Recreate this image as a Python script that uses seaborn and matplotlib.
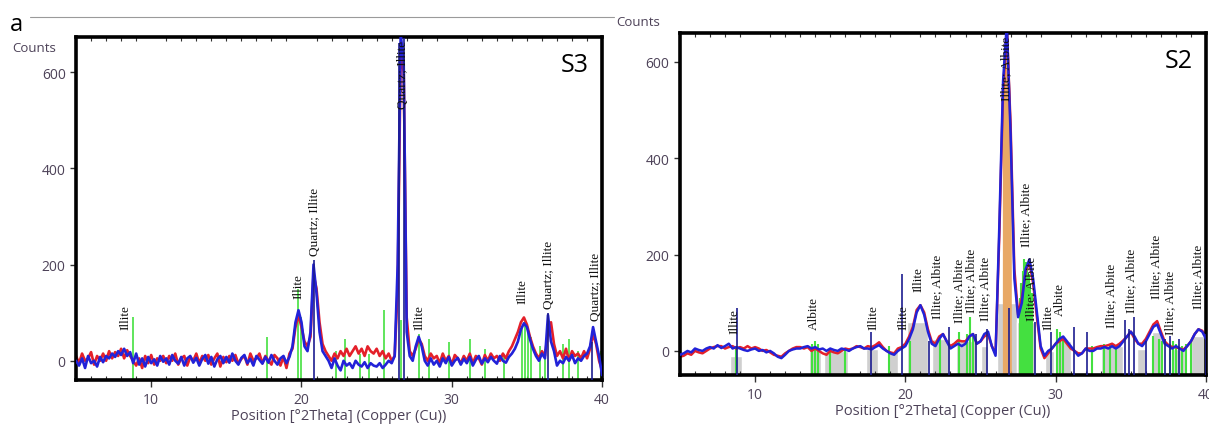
import numpy as np
import matplotlib
matplotlib.use("Agg")
import matplotlib.pyplot as plt
import seaborn as sns

# ---- S3 (left) traces, 0.2 deg step from 5 to 40 ----
s3_step = 0.2
s3_blue = [
    0, -10, 5, -15, 10, -5, 0, -12, 8, -3,
    10, 5, 15, 8, 20, 12, 25, 10, 18, -5,
    15, -8, 5, -12, 8, -5, 3, -10, 10, -2,
    5, -8, 12, 0, -6, 8, -10, 5, 10, -4,
    6, -10, 4, 12, -6, 8, -12, 3, 10, -5,
    8, -4, 15, 0, -8, 6, 12, -5, 4, -10,
    10, 2, -6, 8, -4, 12, 0, -8, 5, 10,
    -5, 8, 30, 80, 105, 80, 30, 20, 60, 200,
    140, 60, 20, 10, 0, -15, 5, -10, -20, 0,
    -10, -5, -15, 0, -8, -12, -3, -15, -5, -10,
    -12, -5, -15, -8, 0, -5, 10, 200, 680, 620,
    60, 10, 0, 30, 50, 30, 0, -10, 5, -8,
    0, -12, 5, -5, 8, -10, 0, 6, -8, 4,
    -5, 8, -10, 2, 10, -6, 5, -3, 8, 0,
    -6, 10, 0, -4, 8, 15, 25, 40, 65, 78,
    70, 45, 25, 10, 0, 15, 5, 95, 40, 20,
    -10, 0, -5, 8, 0, 12, -5, 5, 0, 10,
    15, 30, 70, 40, 10, -30,
]
s3_red = [
    10, -5, 15, 0, 5, 18, -8, 10, 0, 15,
    0, 20, 5, 18, 10, 25, 5, 22, 10, 0,
    -10, 5, -15, 10, -5, 12, -8, 5, 0, 10,
    -5, 10, 0, 15, -8, 5, 10, -10, 8, 0,
    15, -5, 10, 0, 12, -8, 5, 15, -12, 8,
    -3, 10, 0, 12, -6, 4, 10, -8, 15, 0,
    5, 15, -5, 10, 0, -8, 12, 5, -10, 8,
    -15, 15, 25, 70, 95, 70, 40, 30, 50, 180,
    150, 80, 35, 20, 10, 0, 15, 5, 20, 10,
    25, 10, 20, 30, 15, 25, 10, 30, 20, 15,
    25, 10, 20, 5, 15, 0, 10, 150, 640, 600,
    90, 20, 10, 25, 45, 35, 10, 0, 15, 5,
    10, -5, 15, 0, 10, -8, 12, 5, -5, 10,
    0, 15, -5, 10, 5, -8, 12, 0, 15, 5,
    10, 0, 15, 5, 20, 30, 45, 60, 80, 90,
    75, 50, 30, 15, 5, 20, 10, 60, 80, 35,
    10, 20, 5, 25, 0, 20, 10, 15, 5, 20,
    5, 25, 55, 35, 0, -20,
]

# reference sticks S3
s3_green_pos = [8.8, 17.7, 19.8, 20.0, 22.3, 22.9, 23.9, 24.5, 25.5, 26.65, 27.8,
                28.5, 29.8, 31.2, 32.2, 33.5, 34.7, 34.9, 35.1, 35.3, 35.9, 36.2,
                37.4, 37.8, 38.4, 39.9]
s3_green_h = [90, 50, 150, 90, 20, 45, 15, 15, 105, 85, 55, 45, 40, 45, 25, 15,
              70, 85, 60, 50, 30, 25, 35, 45, 20, 20]
s3_blue_pos = [20.8, 26.5, 26.8, 36.4, 39.3]
s3_blue_h = [210, 660, 670, 100, 40]

s3_labels = ["Illite", "Illite", "Quartz; Illite", "Quartz; Illite", "Illite",
             "Illite", "Quartz; Illite", "Quartz; Illite"]
s3_label_x = [8.3, 19.8, 20.9, 26.75, 27.85, 34.7, 36.5, 39.6]
s3_label_y = [65, 130, 220, 525, 65, 120, 110, 85]

# ---- S2 (right) traces, 0.25 deg step from 5 to 40 ----
s2_step = 0.25
s2_blue = [
    -8, -5, 0, -3, 5, 2, 0, 5,
    8, 5, 12, 6, 10, 15, 5, 8,
    5, 2, 0, 3, 5, 0, 2, -3,
    0, -5, -12, -15, -8, 0, 3, 5,
    5, 8, 10, 5, 8, 3, 5, 0,
    5, 2, 0, 5, 3, 0, 5, 8,
    10, 5, 5, 3, 8, 12, 5, 0,
    -5, -8, 0, 5, 10, 25, 45, 80,
    95, 75, 40, 15, 10, 25, 35, 20,
    5, 10, 15, 10, 15, 30, 35, 15,
    20, 35, 40, 10, -10, 260, 560, 680,
    450, 150, 70, 100, 170, 190, 150, 80,
    10, -10, 0, 5, 15, 25, 30, 20,
    10, 0, -10, -5, 5, 0, 0, 5,
    5, 8, 5, 10, 5, 10, 20, 30,
    40, 30, 15, 10, 20, 35, 50, 55,
    35, 15, 10, 5, 10, 5, 0, 10,
    20, 35, 45, 40, 25,
]
s2_red = [
    -12, -10, -5, -8, 0, -3, -5, 0,
    5, 8, 10, 10, 5, 8, 10, 5,
    8, 5, 10, 5, 8, 5, 0, 2,
    -3, -8, -10, -12, -5, 0, 5, 8,
    8, 5, 8, 0, 5, 0, -5, -8,
    0, -3, -5, 0, 5, 3, 5, 10,
    8, 5, 10, 8, 12, 18, 8, 0,
    -3, -5, 5, 8, 15, 30, 50, 85,
    95, 80, 45, 20, 15, 30, 35, 20,
    10, 15, 22, 20, 20, 30, 35, 15,
    20, 30, 35, 10, -5, 240, 540, 670,
    470, 170, 75, 110, 165, 185, 140, 70,
    5, -15, -5, 5, 15, 20, 25, 15,
    5, 0, -5, -5, 5, 5, 5, 8,
    10, 10, 12, 15, 10, 15, 22, 30,
    40, 25, 15, 15, 25, 40, 55, 62,
    40, 20, 12, 8, 8, 5, 3, 10,
    20, 35, 45, 42, 30,
]

# gray reference bars S2 (left edge, width, top)
s2_gray_x = [8.3, 13.6, 14.6, 17.4, 18.8, 20.1, 21.8, 23.4, 25.0, 26.1, 27.4,
             29.3, 30.0, 33.0, 35.4, 36.4, 37.8, 39.0]
s2_gray_w = [0.8, 0.8, 1.6, 0.8, 0.7, 1.4, 1.2, 1.3, 0.5, 1.3, 1.2, 0.6, 1.0,
             1.5, 0.6, 0.7, 0.8, 1.0]
s2_gray_top = [-10, 5, 0, 5, 0, 60, 25, 20, 10, 100, 60, 0, 20, 10, 5, 40, 5, 30]

s2_green_pos = [8.7, 13.8, 14.0, 14.2, 15.0, 16.0, 18.9, 20.3, 22.3, 23.6, 24.1,
                24.3, 24.5, 27.6, 27.7, 27.8, 27.9, 28.0, 28.1, 28.2, 28.3, 28.4,
                30.1, 30.3, 30.5, 32.4, 33.2, 33.6, 34.0, 36.5, 36.9, 37.1, 37.6,
                37.8, 38.0, 38.4, 38.7, 39.0]
s2_green_h = [5, 15, 20, 15, 5, 5, 10, 20, 25, 40, 35, 70, 30, 110, 140, 165,
              190, 185, 175, 160, 140, 120, 45, 40, 25, 10, 15, 15, 10, 30, 25,
              20, 15, 20, 15, 10, 15, 20]
s2_blue_pos = [8.8, 17.7, 19.8, 21.6, 22.9, 24.7, 25.4, 26.9, 28.6, 29.7, 31.2,
               32.1, 34.6, 34.9, 35.2, 36.0, 37.3, 37.6, 38.2, 40.0]
s2_blue_h = [90, 40, 160, 20, 50, 35, 45, 90, 60, 40, 50, 40, 65, 45, 70, 20,
             25, 30, 25, 35]

s2_labels = ["Illite", "Albite", "Illite", "Illite", "Illite", "Illite; Albite",
             "Illite; Albite", "Illite; Albite", "Illite; Albite", "Illite; Albite",
             "Illite; Albite", "Illite; Albite", "Illite", "Albite",
             "Illite; Albite", "Illite; Albite", "Illite; Albite",
             "Illite; Albite", "Illite; Albite"]
s2_label_x = [8.6, 13.9, 17.9, 19.9, 20.9, 22.1, 23.55, 24.35, 25.3, 26.7, 28.05,
              28.4, 29.5, 30.3, 33.7, 35.0, 36.7, 37.6, 39.5]
s2_label_y = [37, 45, 45, 45, 125, 69, 60, 80, 65, 520, 217, 65, 45, 75, 50,
              80, 110, 35, 90]

xticks = [10, 20, 30, 40]
yticks = [0, 200, 400, 600]

RED = "#e4202a"
BLUE = "#2222d8"
GREEN = "#44e040"
STICK = "#1c1c90"
TXT = "#4d4258"
SERIF = ['Liberation Serif', 'DejaVu Serif']

sns.set_theme(style="ticks")
plt.rcParams['font.family'] = ['Open Sans', 'DejaVu Sans']

fig = plt.figure(figsize=(12.09, 4.27), dpi=100)
ax1 = fig.add_axes([0.0629, 0.1077, 0.4351, 0.8033])
ax2 = fig.add_axes([0.5624, 0.1194, 0.4351, 0.8021])


def style_axes(ax, ylim, tag):
    ax.set_xlim(5, 40)
    ax.set_ylim(*ylim)
    ax.set_xticks(xticks)
    ax.set_yticks(yticks)
    ax.set_xticks(np.arange(6, 40, 1), minor=True)
    ax.tick_params(axis='x', which='major', direction='out', length=5,
                   width=1, colors='#333333', labelcolor=TXT, labelsize=10)
    ax.tick_params(axis='x', which='minor', direction='in', length=3,
                   width=0.8, top=True, colors='#333333')
    ax.tick_params(axis='y', which='major', direction='out', length=4,
                   width=1, colors='#333333', labelcolor=TXT, labelsize=10)
    for sp in ax.spines.values():
        sp.set_visible(True)
        sp.set_linewidth(2.6)
        sp.set_color('black')
    ax.set_xlabel("Position [°2Theta] (Copper (Cu))", color=TXT, fontsize=10.5,
                  labelpad=1)
    ax.set_ylabel("")
    ax.text(0.975, 0.955, tag, transform=ax.transAxes, ha='right', va='top',
            fontsize=18, color='black')


# ---- left panel S3 ----
x3 = 5 + s3_step * np.arange(len(s3_blue))
ax1.vlines(s3_green_pos, -40, s3_green_h, color=GREEN, lw=1.2, zorder=1)
sns.lineplot(x=x3, y=s3_red, ax=ax1, color=RED, lw=1.9, zorder=2)
sns.lineplot(x=x3, y=s3_blue, ax=ax1, color=BLUE, lw=1.9, zorder=3)
ax1.vlines(s3_blue_pos, -40, s3_blue_h, color=STICK, lw=1.2, zorder=4)
for lab, lx, ly in zip(s3_labels, s3_label_x, s3_label_y):
    ax1.text(lx, ly, lab, rotation=90, ha='center', va='bottom', fontsize=9.5,
             family=SERIF, color='#111111', zorder=5)
style_axes(ax1, (-40, 673), "S3")

# ---- right panel S2 ----
x2 = 5 + s2_step * np.arange(len(s2_blue))
ax2.bar(s2_gray_x, [t + 50 for t in s2_gray_top], width=s2_gray_w, bottom=-50,
        align='edge', color='#cfcfcf', zorder=0)
mask = (x2 >= 26.5) & (x2 <= 27.0)
ax2.fill_between(x2[mask], -50, np.array(s2_blue)[mask], color='#e8a865', zorder=1)
ax2.vlines(s2_green_pos, -50, s2_green_h, color=GREEN, lw=1.5, zorder=1)
sns.lineplot(x=x2, y=s2_red, ax=ax2, color=RED, lw=1.8, zorder=2)
sns.lineplot(x=x2, y=s2_blue, ax=ax2, color=BLUE, lw=1.8, zorder=3)
ax2.vlines(s2_blue_pos, -50, s2_blue_h, color=STICK, lw=1.2, zorder=4)
for lab, lx, ly in zip(s2_labels, s2_label_x, s2_label_y):
    ax2.text(lx, ly, lab, rotation=90, ha='center', va='bottom', fontsize=9.5,
             family=SERIF, color='#111111', zorder=5)
style_axes(ax2, (-50, 661), "S2")

# ---- figure decorations ----
fig.text(10 / 1209, 1 - 25 / 427, "a", fontsize=17, color='black', va='center')
fig.add_artist(plt.Line2D([30 / 1209, 614 / 1209], [1 - 18 / 427, 1 - 18 / 427],
                          color='#9a9a9a', lw=0.8))
fig.text(12 / 1209, 1 - 49 / 427, "Counts", fontsize=9.5, color=TXT, va='center')
fig.text(616 / 1209, 1 - 22 / 427, "Counts", fontsize=9.5, color=TXT, va='center')

fig.savefig("out.png", dpi=100, facecolor='white')
